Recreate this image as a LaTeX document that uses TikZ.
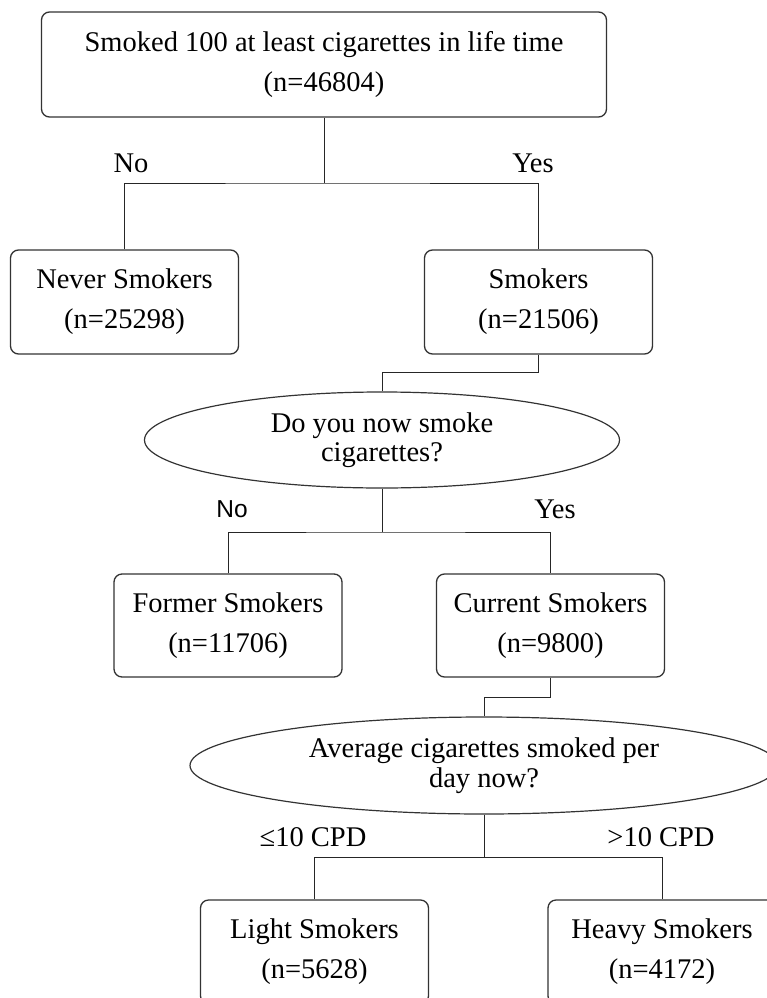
\documentclass[tikz,border=0pt]{standalone}
\usepackage{fontspec}
\setmainfont{Liberation Serif}
\newfontfamily\labelsans{Liberation Sans}
\usetikzlibrary{shapes.geometric}

\begin{document}
\begin{tikzpicture}[x=1pt, y=-1pt]
  \tikzset{every node/.style={font=\fontsize{28.5}{40}\selectfont},
    groupbox/.style={draw=black!80, line width=1.3pt, rounded corners=8pt,
      minimum width=228pt, minimum height=104pt, align=center, inner sep=0pt},
    question/.style={draw=black!80, line width=1.2pt, ellipse, align=center,
      inner sep=0pt, font=\fontsize{28.5}{29.5}\selectfont},
    branch/.style={draw=black!85, line width=1pt}}
  \useasboundingbox (0,0) rectangle (766,998);
  \node[groupbox, minimum width=565pt, minimum height=105pt] (lifetime) at (324,64.5)
    {Smoked 100 at least cigarettes in life time\\(n=46804)};
  \node[groupbox] (never) at (124.5,302) {Never Smokers\\(n=25298)};
  \node[groupbox] (smokers) at (538.5,302) {Smokers\\(n=21506)};
  \node[question, minimum width=475pt, minimum height=96pt] (nowsmoke) at (382,440)
    {Do you now smoke\\cigarettes?};
  \node[groupbox, minimum height=103pt] (former) at (228,625.5) {Former Smokers\\(n=11706)};
  \node[groupbox, minimum height=103pt] (current) at (550.5,625.5) {Current Smokers\\(n=9800)};
  \node[question, minimum width=588pt, minimum height=97pt] (perday) at (484,765.5)
    {Average cigarettes smoked per\\day now?};
  \node[groupbox] (light) at (314.5,952) {Light Smokers\\(n=5628)};
  \node[groupbox] (heavy) at (662,952) {Heavy Smokers\\(n=4172)};

  \coordinate (fork1) at (324,183);
  \coordinate (fork2) at (382,532);
  \coordinate (fork3) at (484,857);
  \draw[branch] (lifetime.south) -- (fork1);
  \draw[branch] (never.north) |- (fork1) -| (smokers.north);
  \draw[branch] (smokers.south) -- ++(0,18) -| (nowsmoke.north);
  \draw[branch] (nowsmoke.south) -- (fork2);
  \draw[branch] (former.north) |- (fork2) -| (current.north);
  \draw[branch] (current.south) -- ++(0,20) -| (perday.north);
  \draw[branch] (perday.south) -- (fork3);
  \draw[branch] (light.north) |- (fork3) -| (heavy.north);

  \node (no1) at (131,163) {No};
  \node (yes1) at (533,163) {Yes};
  \node[font=\labelsans\fontsize{24.5}{28}\selectfont] (no2) at (232,509) {No};
  \node (yes2) at (555,509) {Yes};
  \node (le10) at (313,837) {≤10 CPD};
  \node (gt10) at (661,837) {>10 CPD};
\end{tikzpicture}
\end{document}
